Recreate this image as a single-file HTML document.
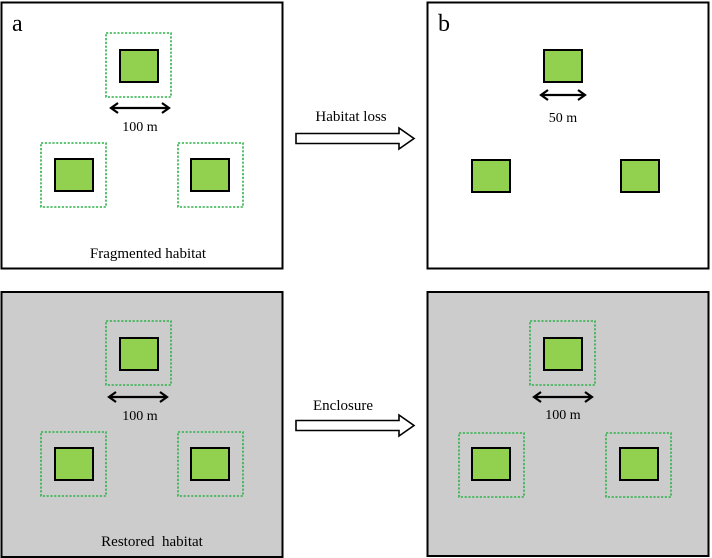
<!DOCTYPE html>
<html><head><style>body{margin:0;background:#fff}svg{display:block}</style></head><body>
<svg width="712" height="558" viewBox="0 0 712 558" xmlns="http://www.w3.org/2000/svg" font-family="Liberation Serif, serif">
<defs>
<g id="arr"><path d="M-28,0 H28 M-22,-5 L-29,0 L-22,5 M22,-5 L29,0 L22,5" stroke="#000" stroke-width="2.2" fill="none"/></g>
<g id="dash"><rect x="0" y="0" width="65" height="64" fill="none" stroke="#2eb24a" stroke-width="1.6" stroke-dasharray="2.2,1.6"/></g>
<g id="grn"><rect x="0" y="0" width="38" height="32" fill="#92d050" stroke="#000" stroke-width="2"/></g>
<g id="hollow"><path d="M0,2.5 H103 V-3 L118,7.5 L103,18 V12.5 H0 Z" fill="#fff" stroke="#000" stroke-width="1.6"/></g>
</defs>
<!-- panel a -->
<rect x="1.5" y="2.5" width="281" height="266" fill="#fff" stroke="#000" stroke-width="2"/>
<text x="12" y="31" font-size="24">a</text>
<use href="#dash" x="106" y="33"/><use href="#grn" x="120" y="50"/>
<use href="#arr" x="140" y="108"/>
<text x="140" y="131" font-size="14" text-anchor="middle">100  m</text>
<use href="#dash" x="41" y="143"/><use href="#grn" x="55" y="159"/>
<use href="#dash" x="178" y="143"/><use href="#grn" x="191" y="159"/>
<text x="148" y="258" font-size="15" text-anchor="middle">Fragmented habitat</text>
<!-- arrow 1 -->
<text x="351" y="121" font-size="15" text-anchor="middle">Habitat loss</text>
<use href="#hollow" x="296" y="131"/>
<!-- panel b -->
<rect x="427.5" y="2.5" width="281" height="266" fill="#fff" stroke="#000" stroke-width="2"/>
<text x="438" y="31" font-size="24">b</text>
<use href="#grn" x="544" y="50"/>
<path d="M542,95 H584 M548,90 L541,95 L548,100 M578,90 L585,95 L578,100" stroke="#000" stroke-width="2.2" fill="none"/>
<text x="563" y="122" font-size="14" text-anchor="middle">50  m</text>
<use href="#grn" x="472" y="160"/><use href="#grn" x="621" y="160"/>
<!-- panel c -->
<rect x="1.5" y="292" width="281" height="265" fill="#cccccc" stroke="#000" stroke-width="2"/>
<use href="#dash" x="106" y="321"/><use href="#grn" x="120" y="338"/>
<use href="#arr" x="138" y="397"/>
<text x="140" y="420" font-size="14" text-anchor="middle">100  m</text>
<use href="#dash" x="41" y="432"/><use href="#grn" x="55" y="448"/>
<use href="#dash" x="178" y="432"/><use href="#grn" x="191" y="448"/>
<text x="152" y="546" font-size="15" text-anchor="middle" xml:space="preserve">Restored  habitat</text>
<!-- arrow 2 -->
<text x="343" y="410" font-size="15" text-anchor="middle">Enclosure</text>
<use href="#hollow" x="296" y="418"/>
<!-- panel d -->
<rect x="427.5" y="292" width="281" height="264" fill="#cccccc" stroke="#000" stroke-width="2"/>
<use href="#dash" x="530" y="321"/><use href="#grn" x="544" y="338"/>
<use href="#arr" x="563" y="397"/>
<text x="563" y="419" font-size="14" text-anchor="middle">100  m</text>
<use href="#dash" x="459" y="433"/><use href="#grn" x="472" y="448"/>
<use href="#dash" x="606" y="433"/><use href="#grn" x="620" y="448"/>
</svg>
</body></html>
